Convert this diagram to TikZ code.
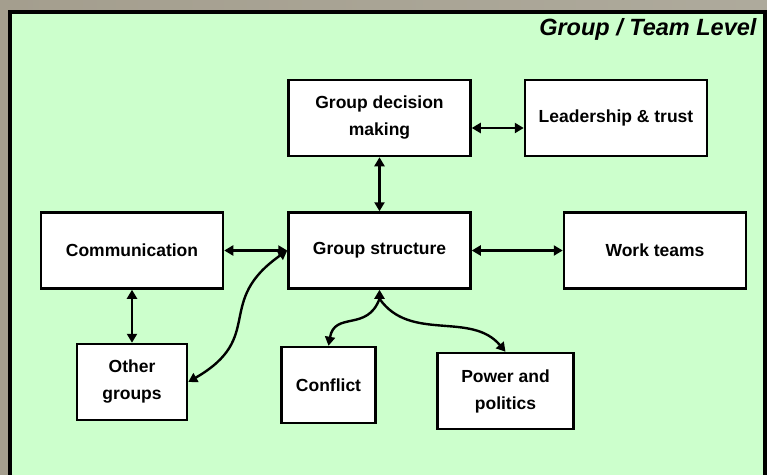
\documentclass[tikz,border=0pt]{standalone}
\usepackage{fontspec}
\setmainfont{Liberation Sans}
\usetikzlibrary{arrows.meta, positioning}
\definecolor{panelgreen}{HTML}{CCFFCC}
\definecolor{frameleft}{HTML}{A49E8E}
\definecolor{framemid}{HTML}{D6D2BE}
\definecolor{frameright}{HTML}{AEAA9C}

\begin{document}
\begin{tikzpicture}[
    x=1pt, y=1pt,
    node distance=54pt and 63pt,
    >={Triangle[length=9pt, width=10pt]},
    % boxes for the topics
    box/.style={rectangle, draw=black, fill=white, line width=2.5pt, minimum width=182pt, minimum height=76pt, align=center, inner sep=4pt, font=\bfseries\fontsize{17.5}{27}\selectfont},
    % connectors
    arrow/.style={<->, line width=2.4pt, draw=black}
]

% frame and green panel
\useasboundingbox (0,0) rectangle (767,-474);
\clip (0,0) rectangle (767,-474);
\shade[left color=frameleft, middle color=framemid, right color=frameright] (0,0) rectangle (767,-474);
\draw[line width=3.5pt, fill=panelgreen] (10,-12) rectangle (765,-490);

\node (title) [anchor=base east, font=\bfseries\itshape\fontsize{23.5}{28}\selectfont] at (760,-35) {Group / Team Level};

% placing the boxes
\node (gs) [box] at (379.5,-250.5) {Group structure};
\node (gdm) [box, above=of gs] {Group decision\\making};
\node (lead) [box, right=52pt of gdm] {Leadership \& trust};
\node (comm) [box, left=of gs] {Communication};
\node (wt) [box, right=91pt of gs] {Work teams};
\node (og) [box, minimum width=110pt, below=53pt of comm] {Other\\groups};
\node (conflict) [box, minimum width=94pt, below=56pt of gs, xshift=-51pt] {Conflict};
\node (power) [box, minimum width=136pt, below=62pt of gs, xshift=126pt] {Power and\\politics};

% straight links
\draw [arrow] ([yshift=-10pt]gdm.east) -- ([yshift=-10pt]lead.west);
\draw [arrow] (gdm) -- (gs);
\draw [arrow] (comm) -- (gs);
\draw [arrow] (gs) -- (wt);
\draw [arrow] (comm) -- (og);

% curved links
\draw [arrow] (gs.west) to[out=215, in=30, looseness=1.4] (og.east);

\coordinate (split) at ([yshift=-9pt]gs.south);
\draw [arrow, ->] (split) -- (gs.south);
\draw [arrow, ->] (split) to[out=-110, in=80, looseness=1.3] (conflict.north);
\draw [arrow, ->] (split) to[out=-55, in=130] (power.north);

\end{tikzpicture}
\end{document}
